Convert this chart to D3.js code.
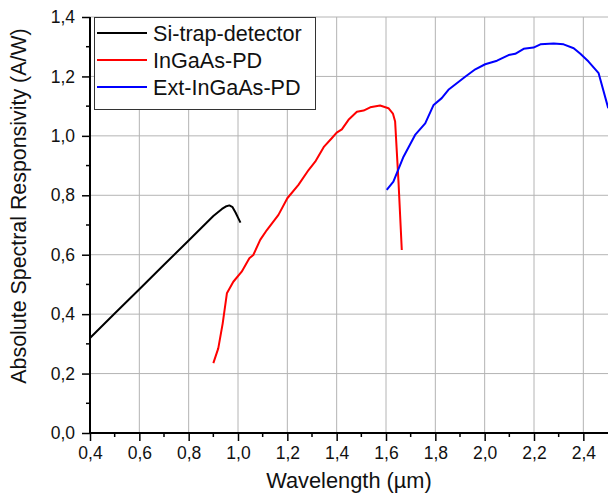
<!DOCTYPE html>
<html>
<head>
<meta charset="utf-8">
<script src="https://cdn.jsdelivr.net/npm/d3@7"></script>
<style>
  body { margin: 0; background: #fff; }
  svg { display: block; font-family: "Liberation Sans", Arial, sans-serif; }
</style>
</head>
<body>
<div id="chart"></div>
<script>
// data (wavelength in um, responsivity in A/W)
const siWl = [0.4, 0.5, 0.6, 0.7, 0.8, 0.9, 0.935, 0.95, 0.965, 0.978, 0.99, 1.0, 1.01];
const siVal = [0.32, 0.402, 0.484, 0.566, 0.648, 0.73, 0.754, 0.762, 0.766, 0.76, 0.742, 0.725, 0.708];

const ingaasWl = [0.9, 0.92, 0.938, 0.955, 0.981, 1.015, 1.046, 1.062, 1.09, 1.117, 1.164, 1.2, 1.245, 1.286, 1.313, 1.349, 1.38, 1.40, 1.421, 1.448, 1.482, 1.509, 1.536, 1.576, 1.61, 1.628, 1.637, 1.651, 1.664];
const ingaasVal = [0.235, 0.285, 0.369, 0.47, 0.509, 0.543, 0.588, 0.599, 0.65, 0.683, 0.734, 0.79, 0.835, 0.885, 0.913, 0.964, 0.992, 1.011, 1.022, 1.054, 1.081, 1.085, 1.096, 1.102, 1.093, 1.075, 1.048, 0.84, 0.616];

const extWl = [1.603, 1.630, 1.671, 1.718, 1.759, 1.793, 1.826, 1.853, 1.887, 1.921, 1.962, 2.002, 2.05, 2.097, 2.124, 2.158, 2.198, 2.226, 2.28, 2.32, 2.361, 2.388, 2.421, 2.462, 2.501];
const extVal = [0.818, 0.846, 0.93, 1.003, 1.042, 1.104, 1.127, 1.155, 1.177, 1.199, 1.224, 1.241, 1.253, 1.272, 1.276, 1.293, 1.297, 1.308, 1.311, 1.308, 1.295, 1.276, 1.25, 1.211, 1.093];

const seriesNames = ["Si-trap-detector", "InGaAs-PD", "Ext-InGaAs-PD"];
const seriesColors = ["#000000", "#ff0000", "#0000ff"];

const xTicks = [0.4, 0.6, 0.8, 1.0, 1.2, 1.4, 1.6, 1.8, 2.0, 2.2, 2.4];
const yTicks = [0.0, 0.2, 0.4, 0.6, 0.8, 1.0, 1.2, 1.4];

const W = 608, H = 496;
const margin = {top: 17, right: 0, bottom: 63, left: 90};
const width = W - margin.left - margin.right;
const height = H - margin.top - margin.bottom;

const svg = d3.select("#chart")
    .append("svg")
    .attr("width", W)
    .attr("height", H);

const g = svg.append("g")
    .attr("transform", `translate(${margin.left},${margin.top})`);

const x = d3.scaleLinear().domain([0.4, 2.5]).range([0, width]);
const y = d3.scaleLinear().domain([0, 1.4]).range([height, 0]);

const fmt = d => d3.format(".1f")(d).replace(".", ",");

// grid
g.append("g")
    .selectAll("line")
    .data(xTicks.slice(1))
    .join("line")
    .attr("x1", d => x(d)).attr("x2", d => x(d))
    .attr("y1", 0).attr("y2", height)
    .attr("stroke", "#b4b4b4")
    .attr("stroke-width", 1);

g.append("g")
    .selectAll("line")
    .data(yTicks.slice(1))
    .join("line")
    .attr("x1", 0).attr("x2", width)
    .attr("y1", d => y(d)).attr("y2", d => y(d))
    .attr("stroke", "#b4b4b4")
    .attr("stroke-width", 1);

// curves
const line = d3.line().x(d => x(d[0])).y(d => y(d[1]));
const series = [
    d3.zip(siWl, siVal),
    d3.zip(ingaasWl, ingaasVal),
    d3.zip(extWl, extVal)
];

g.selectAll(".curve")
    .data(series)
    .join("path")
    .attr("class", "curve")
    .attr("d", line)
    .attr("fill", "none")
    .attr("stroke", (d, i) => seriesColors[i])
    .attr("stroke-width", 2)
    .attr("stroke-linejoin", "round");

// minor ticks
const xMinor = d3.range(0.5, 2.5, 0.2);
const yMinor = d3.range(0.1, 1.4, 0.2);

// X axis
const xAxis = g.append("g")
    .attr("transform", `translate(0,${height})`)
    .call(d3.axisBottom(x).tickValues(xTicks).tickFormat(fmt).tickSize(8).tickPadding(6));
xAxis.append("g")
    .selectAll("line")
    .data(xMinor)
    .join("line")
    .attr("x1", d => x(d)).attr("x2", d => x(d))
    .attr("y1", 0).attr("y2", 4)
    .attr("stroke", "#000").attr("stroke-width", 1.5);

// Y axis
const yAxis = g.append("g")
    .call(d3.axisLeft(y).tickValues(yTicks).tickFormat(fmt).tickSize(8).tickPadding(7));
yAxis.append("g")
    .selectAll("line")
    .data(yMinor)
    .join("line")
    .attr("y1", d => y(d)).attr("y2", d => y(d))
    .attr("x1", 0).attr("x2", -4)
    .attr("stroke", "#000").attr("stroke-width", 1.5);

[xAxis, yAxis].forEach(a => {
    a.selectAll(".tick line").attr("stroke-width", 1.5);
    a.selectAll(".tick text")
        .style("font-size", "17.5px")
        .attr("fill", "#111")
        .style("font-family", "'Liberation Sans', Arial, sans-serif");
    a.select(".domain").remove();
});
g.append("line").attr("x1", 0).attr("x2", width).attr("y1", height).attr("y2", height)
    .attr("stroke", "#000").attr("stroke-width", 2);
g.append("line").attr("x1", 0).attr("x2", 0).attr("y1", 0).attr("y2", height + 1)
    .attr("stroke", "#000").attr("stroke-width", 2);

// axis titles
svg.append("text")
    .attr("x", margin.left + width / 2)
    .attr("y", 488)
    .attr("text-anchor", "middle")
    .style("font-size", "21.8px")
    .attr("fill", "#111")
    .text("Wavelength (\u00b5m)");

svg.append("text")
    .attr("transform", `translate(26,206) rotate(-90)`)
    .attr("text-anchor", "middle")
    .style("font-size", "21.4px")
    .attr("fill", "#111")
    .text("Absolute Spectral Responsivity (A/W)");

// legend
const legend = svg.append("g");
legend.append("rect")
    .attr("x", 94.5).attr("y", 17.5)
    .attr("width", 221).attr("height", 92)
    .attr("fill", "#fff")
    .attr("stroke", "#333")
    .attr("stroke-width", 1);

const rows = legend.selectAll(".row")
    .data(seriesNames)
    .join("g")
    .attr("class", "row")
    .attr("transform", (d, i) => `translate(0,${33 + i * 27})`);
rows.append("line")
    .attr("x1", 97).attr("x2", 147)
    .attr("stroke", (d, i) => seriesColors[i])
    .attr("stroke-width", 2);
rows.append("text")
    .attr("x", 153)
    .attr("dy", "0.35em")
    .style("font-size", "21.6px")
    .attr("fill", "#111")
    .text(d => d);
</script>
</body>
</html>
